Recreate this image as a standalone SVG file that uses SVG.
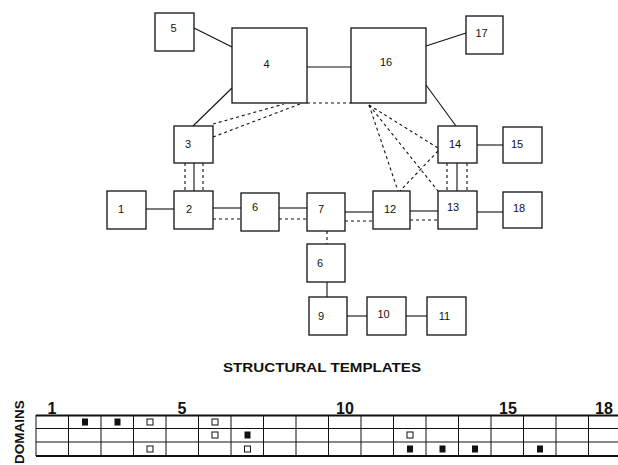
<svg xmlns="http://www.w3.org/2000/svg" width="618" height="465" viewBox="0 0 618 465">
<style>
.box{fill:#fff;stroke:#111;stroke-width:1.3}
.lbl{font-family:"Liberation Sans",Arial,sans-serif;font-size:11px;fill:#111;text-anchor:middle}
.s{stroke:#111;stroke-width:1.1;fill:none}
.d{stroke:#111;stroke-width:1.1;fill:none;stroke-dasharray:3,3}
.g{stroke:#111;stroke-width:1;fill:none}
.gt{stroke:#111;stroke-width:2;fill:none}
.num{font-family:"Liberation Sans",Arial,sans-serif;font-size:16px;font-weight:bold;fill:#111;text-anchor:middle}
.fm{fill:#111}
.om{fill:#fff;stroke:#111;stroke-width:1}
</style>
<rect width="618" height="465" fill="#fff"/>
<g id="connectors">
<line class="s" x1="194" y1="28" x2="232" y2="47"/>
<line class="s" x1="307" y1="67" x2="351" y2="67"/>
<line class="s" x1="232" y1="88" x2="193" y2="126"/>
<line class="s" x1="426" y1="46" x2="466" y2="33"/>
<line class="s" x1="426" y1="85" x2="456" y2="126"/>
<line class="s" x1="477" y1="145" x2="503" y2="145"/>
<line class="s" x1="194" y1="163" x2="194" y2="191"/>
<line class="s" x1="457" y1="163" x2="457" y2="191"/>
<line class="s" x1="146" y1="209" x2="174" y2="209"/>
<line class="s" x1="213" y1="208" x2="241" y2="208"/>
<line class="s" x1="279" y1="208" x2="307" y2="208"/>
<line class="s" x1="345" y1="212" x2="373" y2="212"/>
<line class="s" x1="410" y1="211" x2="438" y2="211"/>
<line class="s" x1="477" y1="212" x2="503" y2="212"/>
<line class="s" x1="327" y1="282" x2="327" y2="297"/>
<line class="s" x1="347" y1="316" x2="367" y2="316"/>
<line class="s" x1="406" y1="316" x2="427" y2="316"/>
<line class="d" x1="307" y1="103" x2="351" y2="103"/>
<line class="d" x1="213" y1="124" x2="284" y2="104"/>
<line class="d" x1="213" y1="137" x2="300" y2="104"/>
<line class="d" x1="369" y1="105" x2="398" y2="191"/>
<line class="d" x1="369" y1="105" x2="438" y2="148"/>
<line class="d" x1="369" y1="105" x2="438" y2="191"/>
<line class="d" x1="438" y1="151" x2="400" y2="191"/>
<line class="d" x1="185" y1="163" x2="185" y2="191"/>
<line class="d" x1="203" y1="163" x2="203" y2="191"/>
<line class="d" x1="447" y1="163" x2="447" y2="191"/>
<line class="d" x1="467" y1="163" x2="467" y2="191"/>
<line class="d" x1="213" y1="219" x2="241" y2="219"/>
<line class="d" x1="279" y1="219" x2="307" y2="219"/>
<line class="d" x1="345" y1="221" x2="373" y2="221"/>
<line class="d" x1="410" y1="220" x2="438" y2="220"/>
<line class="d" x1="327" y1="231" x2="327" y2="244" stroke-dasharray="2,3"/>
</g>
<g id="n5"><rect class="box" x="155" y="13" width="39" height="38"/><text class="lbl" x="173.5" y="32">5</text></g>
<g id="n4"><rect class="box" x="232" y="28" width="75" height="75"/><text class="lbl" x="266.5" y="68">4</text></g>
<g id="n16"><rect class="box" x="351" y="28" width="75" height="75"/><text class="lbl" x="386" y="66">16</text></g>
<g id="n17"><rect class="box" x="466" y="16" width="37" height="38"/><text class="lbl" x="481.5" y="37">17</text></g>
<g id="n3"><rect class="box" x="174" y="126" width="39" height="37"/><text class="lbl" x="188" y="148">3</text></g>
<g id="n14"><rect class="box" x="438" y="126" width="39" height="37"/><text class="lbl" x="455" y="148">14</text></g>
<g id="n15"><rect class="box" x="503" y="127" width="39" height="36"/><text class="lbl" x="517" y="148">15</text></g>
<g id="n1"><rect class="box" x="107" y="191" width="39" height="38"/><text class="lbl" x="121" y="213">1</text></g>
<g id="n2"><rect class="box" x="174" y="191" width="39" height="38"/><text class="lbl" x="189" y="213">2</text></g>
<g id="n6a"><rect class="box" x="241" y="193" width="38" height="38"/><text class="lbl" x="255" y="211">6</text></g>
<g id="n7"><rect class="box" x="307" y="193" width="38" height="38"/><text class="lbl" x="321" y="213">7</text></g>
<g id="n12"><rect class="box" x="373" y="191" width="37" height="38"/><text class="lbl" x="390" y="213">12</text></g>
<g id="n13"><rect class="box" x="438" y="191" width="39" height="38"/><text class="lbl" x="453" y="211">13</text></g>
<g id="n18"><rect class="box" x="503" y="192" width="39" height="36"/><text class="lbl" x="519" y="212">18</text></g>
<g id="n6b"><rect class="box" x="307" y="244" width="38" height="38"/><text class="lbl" x="320" y="267">6</text></g>
<g id="n9"><rect class="box" x="309" y="297" width="38" height="38"/><text class="lbl" x="321" y="320">9</text></g>
<g id="n10"><rect class="box" x="367" y="297" width="39" height="38"/><text class="lbl" x="383.5" y="318">10</text></g>
<g id="n11"><rect class="box" x="427" y="297" width="39" height="38"/><text class="lbl" x="444.5" y="320">11</text></g>
<text x="322" y="372" font-family="Liberation Sans,Arial,sans-serif" font-size="12.5" font-weight="bold" text-anchor="middle" textLength="198" lengthAdjust="spacingAndGlyphs" fill="#111">STRUCTURAL TEMPLATES</text>
<g id="grid">
<text transform="translate(24,464) rotate(-90)" font-family="Liberation Sans,Arial,sans-serif" font-size="13.5" font-weight="bold" fill="#111">DOMAINS</text>
<text class="num" x="52" y="414">1</text>
<text class="num" x="182" y="414">5</text>
<text class="num" x="345" y="414">10</text>
<text class="num" x="508" y="414">15</text>
<text class="num" x="604" y="414">18</text>
<line class="gt" x1="36" y1="415.5" x2="618" y2="415.5"/>
<line class="g" x1="36" y1="428.5" x2="618" y2="428.5"/>
<line class="g" x1="36" y1="442" x2="618" y2="442"/>
<line class="gt" x1="36" y1="456" x2="618" y2="456"/>
<path class="g" d="M36 415V456M68.5 415V456M101 415V456M133.5 415V456M166 415V456M198.5 415V456M231 415V456M263.5 415V456M296 415V456M328.5 415V456M361 415V456M393.5 415V456M426 415V456M458.5 415V456M491 415V456M523.5 415V456M556 415V456M588.5 415V456"/>
<rect class="fm" x="82" y="418.5" width="6" height="7"/>
<rect class="fm" x="114.5" y="418.5" width="6" height="7"/>
<rect class="om" x="147" y="419" width="6" height="6"/>
<rect class="om" x="212" y="419" width="6" height="6"/>
<rect class="om" x="212" y="432" width="6" height="6"/>
<rect class="fm" x="244.5" y="431.5" width="6" height="7"/>
<rect class="om" x="407" y="432" width="6" height="6"/>
<rect class="om" x="147" y="446" width="6" height="6"/>
<rect class="om" x="244.5" y="446" width="6" height="6"/>
<rect class="fm" x="407" y="445.5" width="6" height="7"/>
<rect class="fm" x="439.5" y="445.5" width="6" height="7"/>
<rect class="fm" x="472" y="445.5" width="6" height="7"/>
<rect class="fm" x="537" y="445.5" width="6" height="7"/>
</g>
</svg>
